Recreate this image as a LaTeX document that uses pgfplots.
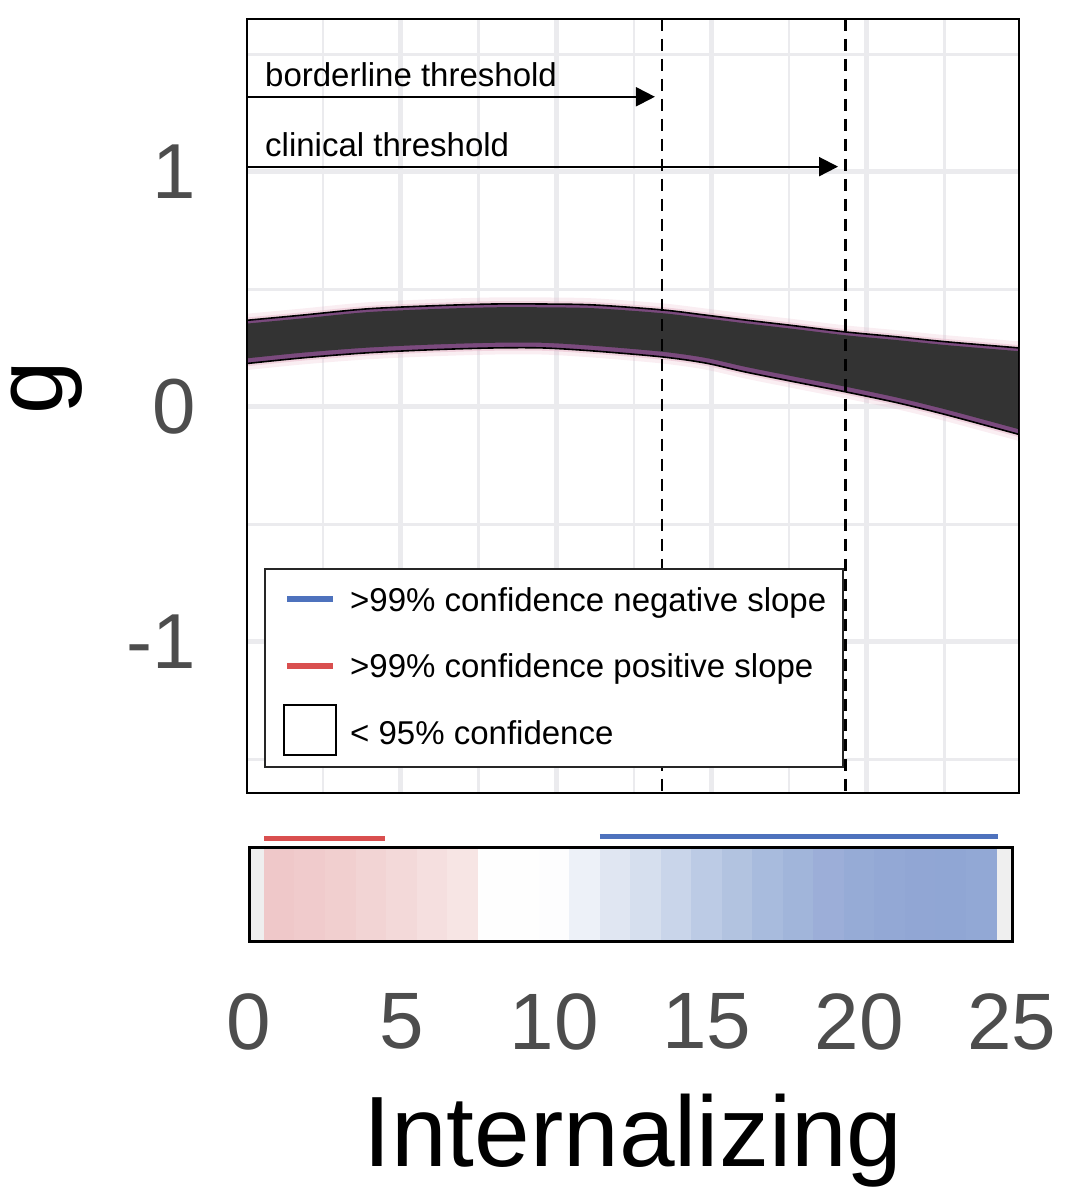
\documentclass[border=0pt]{standalone}
\usepackage{pgfplots}
\pgfplotsset{compat=1.18}
\usepackage{pgfplotstable}
\usepgfplotslibrary{fillbetween}
\usetikzlibrary{arrows.meta}
\usepackage{fontspec}
\setmainfont{Liberation Sans}

\definecolor{gridc}{HTML}{EBEBEE}
\definecolor{tickc}{HTML}{4D4D4D}
\definecolor{bandpink}{HTML}{E6B3C6}
\definecolor{bandpurple}{HTML}{7B4A7E}
\definecolor{bandcore}{HTML}{333333}
\definecolor{legblue}{HTML}{4E72BD}
\definecolor{legred}{HTML}{D94F4F}
\definecolor{endc}{HTML}{EFEFEF}
\definecolor{cb1}{HTML}{EFC8C9}
\definecolor{cb2}{HTML}{F0CBCC}
\definecolor{cb3}{HTML}{F1CFCF}
\definecolor{cb4}{HTML}{F2D4D4}
\definecolor{cb5}{HTML}{F3D9D9}
\definecolor{cb6}{HTML}{F5DFDF}
\definecolor{cb7}{HTML}{F7E5E4}
\definecolor{cb8}{HTML}{FEFEFE}
\definecolor{cb9}{HTML}{FEFEFE}
\definecolor{cb10}{HTML}{FDFDFE}
\definecolor{cb11}{HTML}{EDF1F8}
\definecolor{cb12}{HTML}{E0E6F2}
\definecolor{cb13}{HTML}{D6DFEE}
\definecolor{cb14}{HTML}{C9D5EA}
\definecolor{cb15}{HTML}{BCCBE5}
\definecolor{cb16}{HTML}{B2C3E0}
\definecolor{cb17}{HTML}{A8BBDD}
\definecolor{cb18}{HTML}{A1B5DA}
\definecolor{cb19}{HTML}{9CAED8}
\definecolor{cb20}{HTML}{96ABD6}
\definecolor{cb21}{HTML}{93A8D5}
\definecolor{cb22}{HTML}{91A6D4}
\definecolor{cb23}{HTML}{90A6D4}
\definecolor{cb24}{HTML}{92A8D5}

\pgfplotstableread{
x u l
0.00 0.368 0.184
1.86 0.391 0.209
3.89 0.417 0.230
5.93 0.430 0.243
7.97 0.438 0.251
9.58 0.438 0.251
11.22 0.434 0.238
13.41 0.413 0.213
14.80 0.391 0.187
16.08 0.370 0.149
17.70 0.345 0.106
19.32 0.319 0.064
21.00 0.298 0.017
22.57 0.277 -0.034
25.00 0.250 -0.121
}\band

\begin{document}
\begin{tikzpicture}[x=1pt,y=1pt]
\path (0,0) rectangle (1078,1200);

% main panel
\begin{axis}[
  at={(247pt,407pt)}, anchor=south west,
  width=772pt, height=774pt, scale only axis,
  xmin=0.06, xmax=24.89, ymin=-1.643, ymax=1.651,
  xtick={5,10,15,20}, minor xtick={2.5,7.5,12.5,17.5,22.5},
  xticklabels={},
  ytick={-1,0,1}, yticklabels={-1,0,1},
  minor ytick={-1.5,-0.5,0.5,1.5},
  grid=both,
  major grid style={gridc, line width=5pt},
  minor grid style={gridc, line width=2.5pt},
  major tick length=0pt, minor tick length=0pt,
  axis line style={line width=2.5pt, black},
  yticklabel style={font=\fontsize{78}{80}\selectfont, text=tickc, inner sep=0pt, xshift=-51pt},
]
\addplot[draw=none, name path=u2, smooth] table[x=x, y expr=\thisrow{u}+0.028] {\band};
\addplot[draw=none, name path=l2, smooth] table[x=x, y expr=\thisrow{l}-0.028] {\band};
\addplot[draw=none, name path=u1, smooth] table[x=x, y expr=\thisrow{u}+0.012] {\band};
\addplot[draw=none, name path=l1, smooth] table[x=x, y expr=\thisrow{l}-0.012] {\band};
\addplot[draw=none, name path=u0, smooth] table[x=x, y=u] {\band};
\addplot[draw=none, name path=l0, smooth] table[x=x, y=l] {\band};
\addplot[draw=none, name path=uc, smooth] table[x=x, y expr=\thisrow{u}-0.014] {\band};
\addplot[draw=none, name path=lc, smooth] table[x=x, y expr=\thisrow{l}+0.022] {\band};
\addplot[fill=bandpink, fill opacity=0.22, draw=none] fill between[of=u2 and l2];
\addplot[fill=bandpink, fill opacity=0.45, draw=none] fill between[of=u1 and l1];
\addplot[fill=bandpurple, draw=none] fill between[of=u0 and l0];
\addplot[fill=bandcore, draw=none] fill between[of=uc and lc];
\addplot[black, line width=1.6pt, smooth] table[x=x, y=u] {\band};
\addplot[black, line width=1.6pt, smooth] table[x=x, y=l] {\band};
% thresholds
\addplot[black, line width=2.8pt, dash pattern=on 12pt off 8pt] coordinates {(13.41,1.651) (13.41,-1.643)};
\addplot[black, line width=2.8pt, dash pattern=on 12pt off 8pt] coordinates {(19.32,1.651) (19.32,-1.643)};
\addplot[black, line width=2pt, -{Triangle[length=19pt,width=19pt]}] coordinates {(0.06,1.320) (13.18,1.320)};
\addplot[black, line width=2pt, -{Triangle[length=19pt,width=19pt]}] coordinates {(0.06,1.0226) (19.07,1.0226)};
\draw[black, line width=2.5pt] (rel axis cs:0,0) rectangle (rel axis cs:1,1);
\end{axis}

% threshold labels
\node[anchor=base west, inner sep=0pt, font=\fontsize{33}{36}\selectfont] at (265,1113) {borderline threshold};
\node[anchor=base west, inner sep=0pt, font=\fontsize{33}{36}\selectfont] at (265,1043) {clinical threshold};

% legend
\draw[fill=white, draw=black!85, line width=1.5pt] (265,433) rectangle (843,631);
\draw[legblue, line width=6pt] (287,600.5) -- (333,600.5);
\draw[legred, line width=6pt] (287,534) -- (333,534);
\draw[black, line width=2pt, fill=white] (284,445) rectangle (336,495);
\node[anchor=base west, inner sep=0pt, font=\fontsize{33}{36}\selectfont] at (350,588) {>99\% confidence negative slope};
\node[anchor=base west, inner sep=0pt, font=\fontsize{33}{36}\selectfont] at (350,522) {>99\% confidence positive slope};
\node[anchor=base west, inner sep=0pt, font=\fontsize{33}{36}\selectfont] at (350,455) {< 95\% confidence};

% y label
\node[rotate=90, anchor=base, inner sep=0pt, font=\fontsize{96}{100}\selectfont] at (62,812) {g};

% colour bar
\begin{axis}[
  at={(249pt,258pt)}, anchor=south west,
  width=763pt, height=94pt, scale only axis,
  xmin=0, xmax=25, ymin=0, ymax=1, clip=false, axis on top,
  axis line style={line width=3pt, black},
  xtick={0,5,10,15,20,25}, xticklabels={0,5,10,15,20,25},
  ytick=\empty, major tick length=0pt,
  xticklabel style={font=\fontsize{80}{80}\selectfont, text=tickc, inner sep=0pt, anchor=north, yshift=-51pt},
]
\addplot[ybar, bar width=0.5, bar shift=0pt, fill=endc, draw=none] coordinates {(0.25,1)};
\addplot[ybar, bar width=0.5, bar shift=0pt, fill=endc, draw=none] coordinates {(24.75,1)};
\addplot[ybar, bar width=1.02, bar shift=0pt, fill=cb1, draw=none] coordinates {(1,1)};
\addplot[ybar, bar width=1.02, bar shift=0pt, fill=cb2, draw=none] coordinates {(2,1)};
\addplot[ybar, bar width=1.02, bar shift=0pt, fill=cb3, draw=none] coordinates {(3,1)};
\addplot[ybar, bar width=1.02, bar shift=0pt, fill=cb4, draw=none] coordinates {(4,1)};
\addplot[ybar, bar width=1.02, bar shift=0pt, fill=cb5, draw=none] coordinates {(5,1)};
\addplot[ybar, bar width=1.02, bar shift=0pt, fill=cb6, draw=none] coordinates {(6,1)};
\addplot[ybar, bar width=1.02, bar shift=0pt, fill=cb7, draw=none] coordinates {(7,1)};
\addplot[ybar, bar width=1.02, bar shift=0pt, fill=cb8, draw=none] coordinates {(8,1)};
\addplot[ybar, bar width=1.02, bar shift=0pt, fill=cb9, draw=none] coordinates {(9,1)};
\addplot[ybar, bar width=1.02, bar shift=0pt, fill=cb10, draw=none] coordinates {(10,1)};
\addplot[ybar, bar width=1.02, bar shift=0pt, fill=cb11, draw=none] coordinates {(11,1)};
\addplot[ybar, bar width=1.02, bar shift=0pt, fill=cb12, draw=none] coordinates {(12,1)};
\addplot[ybar, bar width=1.02, bar shift=0pt, fill=cb13, draw=none] coordinates {(13,1)};
\addplot[ybar, bar width=1.02, bar shift=0pt, fill=cb14, draw=none] coordinates {(14,1)};
\addplot[ybar, bar width=1.02, bar shift=0pt, fill=cb15, draw=none] coordinates {(15,1)};
\addplot[ybar, bar width=1.02, bar shift=0pt, fill=cb16, draw=none] coordinates {(16,1)};
\addplot[ybar, bar width=1.02, bar shift=0pt, fill=cb17, draw=none] coordinates {(17,1)};
\addplot[ybar, bar width=1.02, bar shift=0pt, fill=cb18, draw=none] coordinates {(18,1)};
\addplot[ybar, bar width=1.02, bar shift=0pt, fill=cb19, draw=none] coordinates {(19,1)};
\addplot[ybar, bar width=1.02, bar shift=0pt, fill=cb20, draw=none] coordinates {(20,1)};
\addplot[ybar, bar width=1.02, bar shift=0pt, fill=cb21, draw=none] coordinates {(21,1)};
\addplot[ybar, bar width=1.02, bar shift=0pt, fill=cb22, draw=none] coordinates {(22,1)};
\addplot[ybar, bar width=1.02, bar shift=0pt, fill=cb23, draw=none] coordinates {(23,1)};
\addplot[ybar, bar width=1.0, bar shift=0pt, fill=cb24, draw=none] coordinates {(24,1)};
% significance bars
\addplot[legred, line width=5pt] coordinates {(0.5,1.106) (4.45,1.106)};
\addplot[legblue, line width=5pt] coordinates {(11.5,1.117) (24.55,1.117)};
\end{axis}

% x label
\node[anchor=base, inner sep=0pt, font=\fontsize{100}{100}\selectfont] at (633,33) {Internalizing};
\end{tikzpicture}
\end{document}
